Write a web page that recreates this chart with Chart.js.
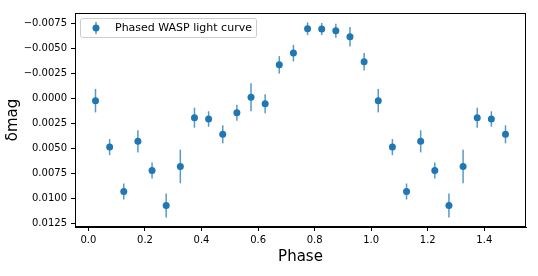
<!DOCTYPE html>
<html>
<head>
<meta charset="utf-8">
<script src="https://cdn.jsdelivr.net/npm/chart.js@4/dist/chart.umd.min.js"></script>
<style>
  html, body { margin: 0; padding: 0; background: #fff; }
  #wrap { width: 538px; height: 276px; }
</style>
</head>
<body>
<div id="wrap"><canvas id="lc"></canvas></div>
<script>
// phased light curve
const phase = [0.025, 0.075, 0.125, 0.175, 0.225, 0.275, 0.325, 0.375, 0.425, 0.475,
  0.525, 0.575, 0.625, 0.675, 0.725, 0.775, 0.825, 0.875, 0.925, 0.975,
  1.025, 1.075, 1.125, 1.175, 1.225, 1.275, 1.325, 1.375, 1.425, 1.475];
const dmag = [0.00024, 0.00487, 0.0093, 0.0043, 0.0072, 0.0107, 0.0068, 0.00194, 0.00207, 0.0036,
  0.00144, -0.0001, 0.00054, -0.00333, -0.0045, -0.00693, -0.0069, -0.00673, -0.00613, -0.00363,
  0.00024, 0.00487, 0.0093, 0.0043, 0.0072, 0.0107, 0.0068, 0.00194, 0.00207, 0.0036];
const dmagErr = [0.00117, 0.0008, 0.0008, 0.0011, 0.0008, 0.0012, 0.00167, 0.001, 0.00077, 0.0009,
  0.0008, 0.0014, 0.00095, 0.00087, 0.00083, 0.00063, 0.0006, 0.0007, 0.00097, 0.00087,
  0.00117, 0.0008, 0.0008, 0.0011, 0.0008, 0.0012, 0.00167, 0.001, 0.00077, 0.0009];
const xTicks = [0.0, 0.2, 0.4, 0.6, 0.8, 1.0, 1.2, 1.4];
const yTicks = [-0.0075, -0.005, -0.0025, 0, 0.0025, 0.005, 0.0075, 0.01, 0.0125];

const blue = "#1f77b4";
const font = "DejaVu Sans";

// error bars go under the markers
const errorBars = {
  id: "errorBars",
  beforeDatasetsDraw(chart) {
    const ctx = chart.ctx;
    const x = chart.scales.x, y = chart.scales.y;
    ctx.save();
    ctx.strokeStyle = "rgba(31,119,180,0.75)";
    ctx.lineWidth = 1.5;
    for (let i = 0; i < phase.length; i++) {
      const px = x.getPixelForValue(phase[i]);
      ctx.beginPath();
      ctx.moveTo(px, y.getPixelForValue(dmag[i] - dmagErr[i]));
      ctx.lineTo(px, y.getPixelForValue(dmag[i] + dmagErr[i]));
      ctx.stroke();
    }
    ctx.restore();
  }
};

// frame, legend box and axis titles
const extras = {
  id: "extras",
  afterDraw(chart) {
    const ctx = chart.ctx;
    const a = chart.chartArea;
    ctx.save();
    ctx.strokeStyle = "#000";
    ctx.lineWidth = 1;
    ctx.strokeRect(a.left + 0.5, a.top + 0.5, a.right - a.left - 1, a.bottom - a.top - 1);

    // legend
    const lx = a.left + 5, ly = a.top + 5, lw = 176, lh = 19;
    ctx.fillStyle = "rgba(255,255,255,0.8)";
    ctx.strokeStyle = "#cccccc";
    ctx.beginPath();
    ctx.roundRect(lx + 0.5, ly + 0.5, lw, lh, 2);
    ctx.fill();
    ctx.stroke();
    const mx = lx + 16, my = ly + lh / 2 + 0.5;
    ctx.strokeStyle = "rgba(31,119,180,0.75)";
    ctx.lineWidth = 1.5;
    ctx.beginPath();
    ctx.moveTo(mx, my - 6);
    ctx.lineTo(mx, my + 6);
    ctx.stroke();
    ctx.fillStyle = blue;
    ctx.beginPath();
    ctx.arc(mx, my, 3.5, 0, Math.PI * 2);
    ctx.fill();
    ctx.fillStyle = "#000";
    ctx.font = "11px " + font;
    ctx.textBaseline = "middle";
    ctx.textAlign = "left";
    ctx.fillText("Phased WASP light curve", lx + 35, my);

    // axis titles
    ctx.font = "15px " + font;
    ctx.textAlign = "center";
    ctx.fillText("Phase", (a.left + a.right) / 2, 257);
    ctx.translate(13, (a.top + a.bottom) / 2);
    ctx.rotate(-Math.PI / 2);
    ctx.fillText("\u03b4mag", 0, 0);
    ctx.restore();
  }
};

const fmt = (v, d) => v.toFixed(d).replace("-", "\u2212");

new Chart(document.getElementById("lc"), {
  type: "scatter",
  data: {
    datasets: [{
      label: "Phased WASP light curve",
      data: phase.map((p, i) => ({ x: p, y: dmag[i] })),
      backgroundColor: blue,
      borderColor: blue,
      pointRadius: 3.5,
      pointHoverRadius: 3.5,
      borderWidth: 0
    }]
  },
  options: {
    responsive: true,
    maintainAspectRatio: false,
    animation: false,
    events: [],
    layout: { padding: { left: 0, right: 12, top: 13, bottom: 0 } },
    plugins: { legend: { display: false }, tooltip: { enabled: false } },
    scales: {
      x: {
        type: "linear",
        min: -0.0475,
        max: 1.5475,
        afterBuildTicks: s => { s.ticks = xTicks.map(v => ({ value: v })); },
        afterFit: s => { s.height = 49; },
        grid: { display: true, drawOnChartArea: false, drawTicks: true, tickLength: 4, color: "#000" },
        border: { display: true, color: "#000" },
        ticks: {
          color: "#000",
          font: { family: font, size: 10 },
          padding: 3,
          maxRotation: 0,
          callback: v => fmt(v, 1)
        }
      },
      y: {
        type: "linear",
        reverse: true,
        min: -0.0085,
        max: 0.01284,
        afterBuildTicks: s => { s.ticks = yTicks.map(v => ({ value: v })); },
        afterFit: s => { s.width = 75; },
        grid: { display: true, drawOnChartArea: false, drawTicks: true, tickLength: 4, color: "#000" },
        border: { display: true, color: "#000" },
        ticks: {
          color: "#000",
          font: { family: font, size: 10 },
          padding: 4,
          callback: v => fmt(v, 4)
        }
      }
    }
  },
  plugins: [errorBars, extras]
});
</script>
</body>
</html>
